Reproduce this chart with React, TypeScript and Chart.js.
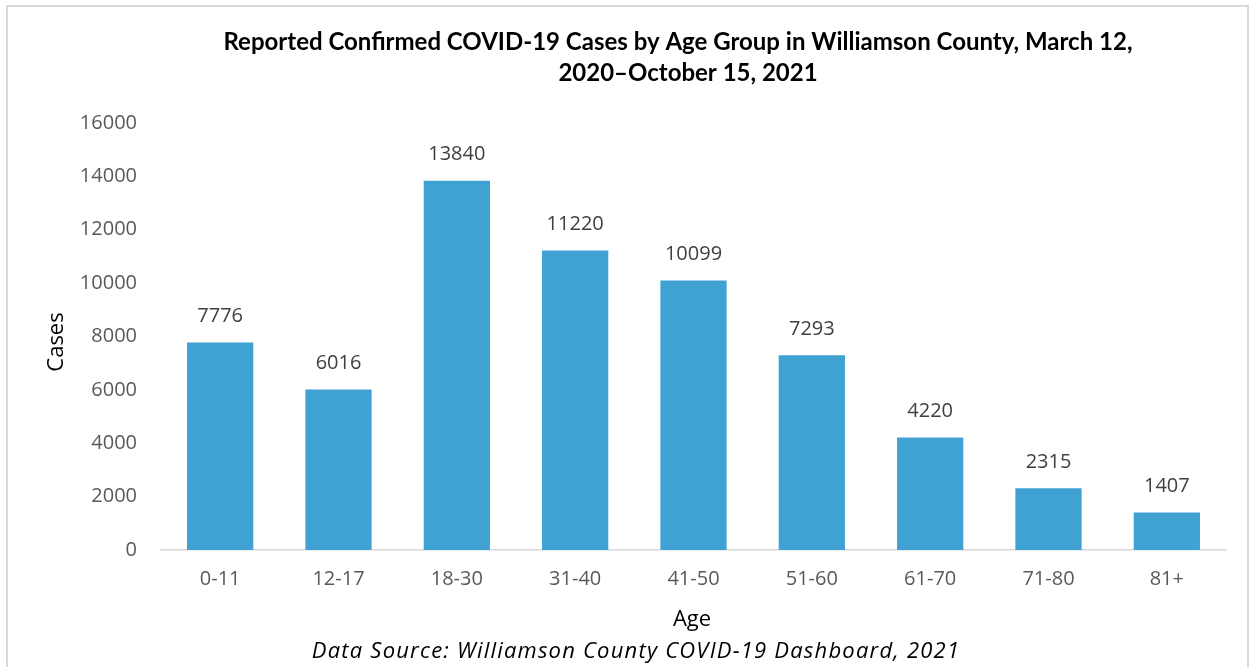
import React, { useEffect, useRef } from "react";
import { Chart, registerables } from "chart.js";

Chart.register(...registerables);

const ageGroups = ["0-11", "12-17", "18-30", "31-40", "41-50", "51-60", "61-70", "71-80", "81+"];
const cases = [7776, 6016, 13840, 11220, 10099, 7293, 4220, 2315, 1407];
const titleLines = [
  "Reported Confirmed COVID-19 Cases by Age Group in Williamson County, March 12,",
  "2020\u2013October 15, 2021",
];
const xTitle = "Age";
const yTitle = "Cases";
const sourceText = "Data Source: Williamson County COVID-19 Dashboard, 2021";

const BAR = "#3FA2D3";
const TXT = "#595959";
const LAB = "#404040";
const FONT = "'Open Sans', 'Noto Sans', sans-serif";
const TFONT = "Lato, 'Open Sans', sans-serif";

const textPlugin = {
  id: "textPlugin",
  afterDraw(chart: any) {
    const ctx = chart.ctx;
    const meta = chart.getDatasetMeta(0);
    ctx.save();
    // data labels
    ctx.fillStyle = LAB;
    ctx.font = `20px ${FONT}`;
    ctx.textAlign = "center";
    ctx.textBaseline = "middle";
    meta.data.forEach((bar: any, i: number) => {
      ctx.fillText(String(cases[i]), bar.x, bar.y - 26);
    });
    // title
    ctx.fillStyle = "#000";
    ctx.font = `bold 24px ${TFONT}`;
    ctx.fillText(titleLines[0], 678, 42);
    ctx.fillText(titleLines[1], 688, 73);
    // axis titles
    ctx.font = `22px ${FONT}`;
    ctx.fillText(xTitle, 692, 620);
    ctx.save();
    ctx.translate(57, 342);
    ctx.rotate(-Math.PI / 2);
    ctx.fillText(yTitle, 0, 0);
    ctx.restore();
    // source
    ctx.font = `italic 22px ${FONT}`;
    (ctx as any).letterSpacing = "1.2px";
    ctx.fillText(sourceText, 636, 652);
    ctx.restore();
  },
};

export default function App() {
  const ref = useRef<HTMLCanvasElement>(null);
  useEffect(() => {
    document.body.style.margin = "0";
    const chart = new Chart(ref.current!, {
      type: "bar",
      data: {
        labels: ageGroups,
        datasets: [
          {
            data: cases,
            backgroundColor: BAR,
            categoryPercentage: 1,
            barPercentage: 0.56,
          },
        ],
      },
      options: {
        animation: false,
        responsive: false,
        layout: { padding: { top: 123, right: 27, left: 0, bottom: 0 } },
        plugins: { legend: { display: false }, tooltip: { enabled: false } },
        scales: {
          x: {
            grid: { display: false, drawTicks: false },
            border: { display: true, color: "#D9D9D9", width: 1.5 },
            ticks: { color: TXT, font: { family: FONT, size: 20 }, padding: 17 },
            afterFit(s: any) {
              s.height = 117;
            },
          },
          y: {
            min: 0,
            max: 16000,
            grid: { display: false, drawTicks: false },
            border: { display: false },
            ticks: {
              stepSize: 2000,
              color: TXT,
              font: { family: FONT, size: 20 },
              padding: 24,
              callback: (v: any) => String(v),
            },
            afterFit(s: any) {
              s.width = 161;
            },
          },
        },
      },
      plugins: [textPlugin],
    });
    return () => chart.destroy();
  }, []);
  return (
    <div style={{ position: "relative", width: 1253, height: 667, background: "#fff", overflow: "hidden" }}>
      <div
        style={{
          position: "absolute",
          left: 6,
          top: 5,
          width: 1243,
          height: 700,
          border: "2px solid #D9D9D9",
          boxSizing: "border-box",
        }}
      />
      <canvas ref={ref} width={1253} height={667} style={{ position: "absolute", left: 0, top: 0 }} />
    </div>
  );
}
